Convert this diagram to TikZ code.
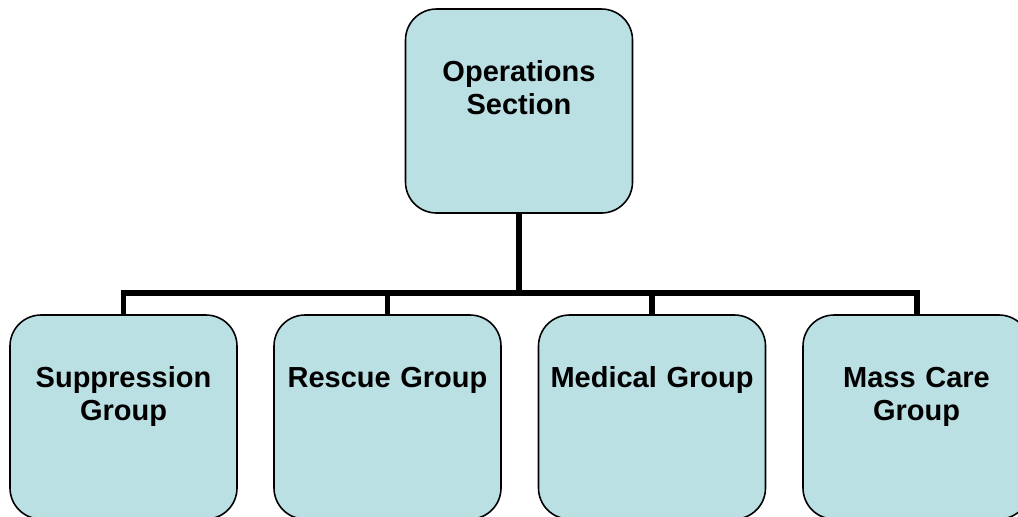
\documentclass[tikz,border=0pt]{standalone}
\usepackage{fontspec}
\setmainfont{Liberation Sans}
\usepackage{tikz}
\usetikzlibrary{positioning}
\definecolor{boxfill}{RGB}{187,224,227}

\begin{document}
\begin{tikzpicture}[
    box/.style={rectangle, draw=black, line width=0.9pt, fill=boxfill, rounded corners=0.62cm,
        text width=4.4cm, align=center, minimum width=4.54cm, inner xsep=0pt, inner ysep=0pt,
        text height=1.44cm, text depth=2.64cm,
        font=\fontsize{16.5pt}{18.8pt}\selectfont\bfseries},
    link/.style={line width=3.4pt, black}
]
    \clip (0,0) rectangle (20.36,-10.32);
    \node[box] (ops) at (10.38,-2.22) {Operations\\Section};
    \node[box] (supp) at (2.47,-8.34) {Suppression\\Group};
    \node[box] (rescue) at (7.75,-8.34) {Rescue Group};
    \node[box] (medical) at (13.04,-8.34) {Medical Group};
    \node[box] (masscare) at (18.33,-8.34) {Mass Care\\Group};
    \coordinate (hub) at (10.38,-5.86);

    \draw[link] (ops) -- (hub);
    \foreach \grp in {supp,rescue,medical,masscare}
        \draw[link] (hub) -| (\grp);
\end{tikzpicture}
\end{document}
